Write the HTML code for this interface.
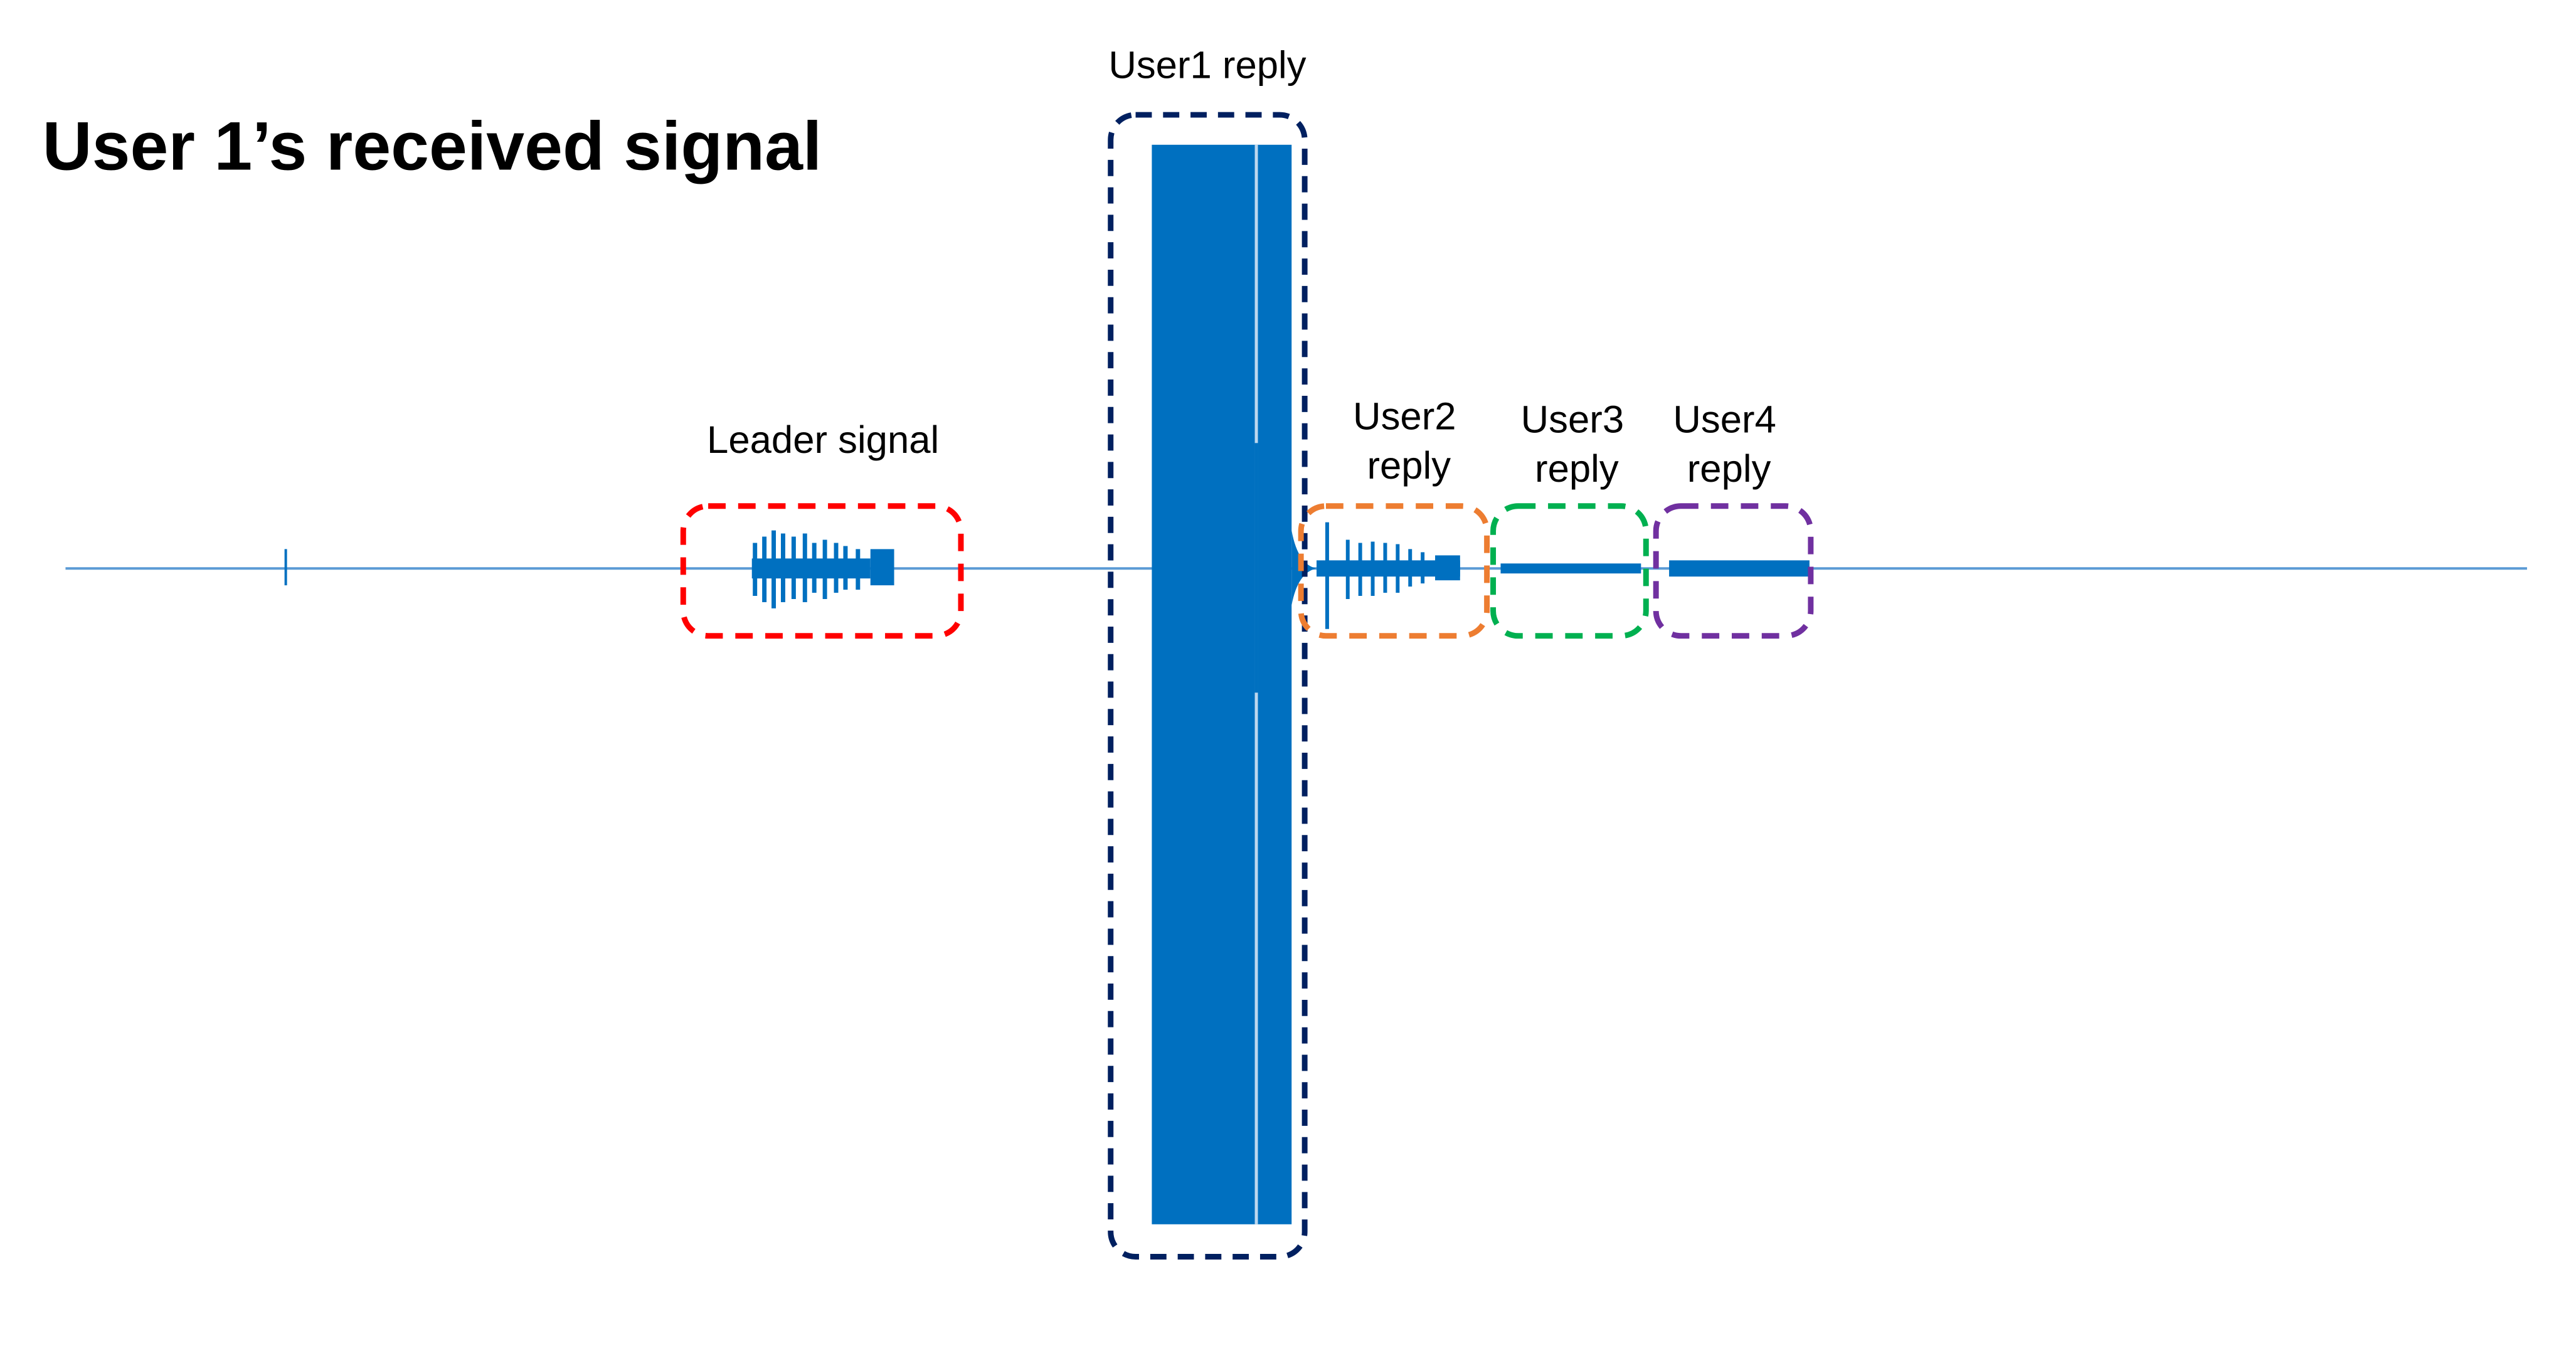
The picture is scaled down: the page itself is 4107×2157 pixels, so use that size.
<!DOCTYPE html>
<html><head><meta charset="utf-8"><style>
html,body{margin:0;padding:0;background:#fff;}
svg{display:block;}
text{font-family:"Liberation Sans",Arial,sans-serif;fill:#000;}
</style></head><body>
<svg width="4107" height="2157" viewBox="0 0 4107 2157" xmlns="http://www.w3.org/2000/svg">
<rect width="4107" height="2157" fill="#fff"/>
<g transform="scale(0.9948)">
<text x="68" y="272" font-size="110" font-weight="bold">User 1’s received signal</text>
<line x1="105" y1="911" x2="4050" y2="911" stroke="#5b9bd5" stroke-width="4"/>
<line x1="458" y1="880" x2="458" y2="938" stroke="#0070c0" stroke-width="4"/>
<g stroke="#0070c0" stroke-width="7">
<line x1="1210" y1="870" x2="1210" y2="955"/>
<line x1="1225" y1="860" x2="1225" y2="965"/>
<line x1="1240" y1="850" x2="1240" y2="975"/>
<line x1="1255" y1="855" x2="1255" y2="965"/>
<line x1="1272" y1="860" x2="1272" y2="960"/>
<line x1="1290" y1="855" x2="1290" y2="965"/>
<line x1="1305" y1="870" x2="1305" y2="950"/>
<line x1="1322" y1="865" x2="1322" y2="960"/>
<line x1="1340" y1="870" x2="1340" y2="950"/>
<line x1="1355" y1="875" x2="1355" y2="945"/>
<line x1="1375" y1="880" x2="1375" y2="945"/>
</g>
<rect x="1205" y="895" width="190" height="32" fill="#0070c0"/>
<rect x="1395" y="880" width="38" height="58" fill="#0070c0"/>
<rect x="1846" y="232" width="224" height="1730" fill="#0070c0"/>
<rect x="2011" y="232" width="5" height="1730" fill="#bdd7ee"/>
<rect x="2011" y="710" width="5" height="400" fill="#0070c0"/>
<path d="M2070 850 Q2080 905 2110 911 Q2080 917 2070 970 Z" fill="#0070c0"/>
<line x1="2127" y1="837" x2="2127" y2="1008" stroke="#0070c0" stroke-width="6"/>
<g stroke="#0070c0" stroke-width="6">
<line x1="2160" y1="865" x2="2160" y2="960"/>
<line x1="2180" y1="870" x2="2180" y2="955"/>
<line x1="2200" y1="868" x2="2200" y2="955"/>
<line x1="2220" y1="870" x2="2220" y2="950"/>
<line x1="2240" y1="872" x2="2240" y2="950"/>
<line x1="2260" y1="880" x2="2260" y2="940"/>
<line x1="2280" y1="885" x2="2280" y2="935"/>
</g>
<rect x="2110" y="898" width="230" height="26" fill="#0070c0"/>
<rect x="2300" y="890" width="40" height="40" fill="#0070c0"/>
<rect x="2405" y="903" width="225" height="16" fill="#0070c0"/>
<rect x="2675" y="898" width="225" height="26" fill="#0070c0"/>
<g fill="none" stroke-width="9">
<rect x="1095" y="811" width="445" height="208" rx="40" stroke="#ff0000" stroke-dasharray="28 20"/>
<rect x="1780" y="184" width="311" height="1830" rx="40" stroke="#002060" stroke-dasharray="26 18"/>
<rect x="2085" y="811" width="298" height="208" rx="40" stroke="#ed7d31" stroke-dasharray="28 20"/>
<rect x="2393" y="811" width="245" height="208" rx="40" stroke="#00b050" stroke-dasharray="28 20"/>
<rect x="2654" y="811" width="248" height="208" rx="40" stroke="#7030a0" stroke-dasharray="28 20"/>
</g>
<g font-size="62" text-anchor="middle">
<text x="1319" y="726">Leader signal</text>
<text x="1935" y="125">User1 reply</text>
<text x="2251" y="688">User2</text>
<text x="2258" y="767">reply</text>
<text x="2520" y="693">User3</text>
<text x="2527" y="772">reply</text>
<text x="2764" y="693">User4</text>
<text x="2771" y="772">reply</text>
</g>
</g>
</svg>
</body></html>
